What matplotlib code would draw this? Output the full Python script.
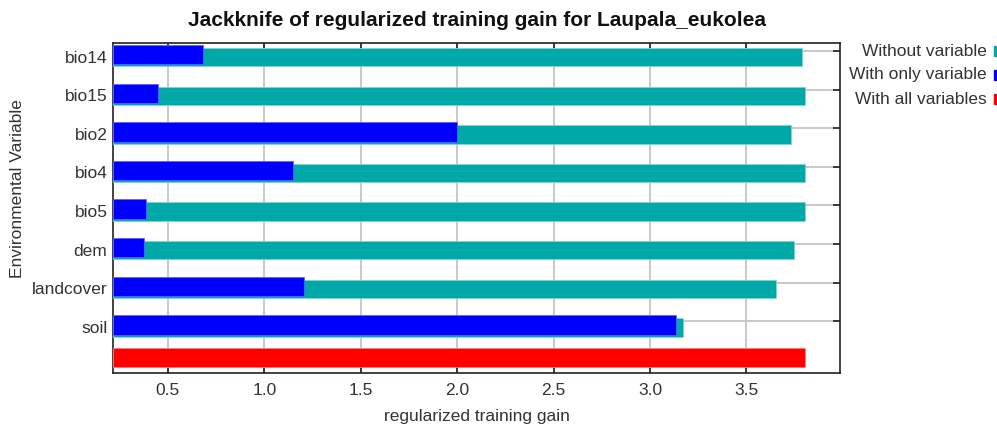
import matplotlib.pyplot as plt
from matplotlib.patches import Rectangle

# Jackknife values
variables = ['bio14', 'bio15', 'bio2', 'bio4', 'bio5', 'dem', 'landcover', 'soil']
without_variable = [3.788, 3.804, 3.731, 3.804, 3.804, 3.747, 3.654, 3.171]
with_only_variable = [0.680, 0.447, 2.000, 1.150, 0.386, 0.377, 1.207, 3.135]
with_all_variables = 3.804

legend_labels = ['Without variable', 'With only variable', 'With all variables']
xtick_values = [0.5, 1.0, 1.5, 2.0, 2.5, 3.0, 3.5]

TEAL = '#00a8a8'
BLUE = '#0000ff'
RED = '#ff0000'
GRID = '#c8c8c8'
TXT = '#333333'
FONT = ['Liberation Sans', 'DejaVu Sans']
FS = 12.5

plt.rcParams['font.family'] = FONT

W, H = 997, 432
fig = plt.figure(figsize=(W / 100, H / 100), dpi=100)
ax = fig.add_axes([113 / W, 1 - 373 / H, 727 / W, 330 / H])

xmin, xmax = 0.215, 3.985
rows = list(range(len(variables)))

# teal bar sits slightly lower than the blue one
ax.barh([r + 0.065 for r in rows], [v - xmin for v in without_variable], left=xmin,
        height=0.477, color=TEAL, edgecolor='#7fd3d3', linewidth=0.6, zorder=3)
ax.barh(rows, [v - xmin for v in with_only_variable], left=xmin,
        height=0.5, color=BLUE, edgecolor='#6060ff', linewidth=0.6, zorder=4)
ax.barh([len(variables) - 1 + 0.845], [with_all_variables - xmin], left=xmin,
        height=0.49, color=RED, edgecolor='#ff8080', linewidth=0.6, zorder=4)

ax.set_xlim(xmin, xmax)
ax.set_ylim(8.246, -0.303)

ax.set_xticks(xtick_values)
ax.set_xticklabels([f'{v:.1f}' for v in xtick_values])
ax.set_yticks([r + 0.05 for r in rows])
ax.set_yticklabels(variables)
ax.set_yticks([r - 0.096 for r in rows], minor=True)

ax.tick_params(axis='x', which='major', direction='in', length=4, width=1.2,
               top=True, bottom=True, pad=7, labelsize=FS, labelcolor=TXT, color='#222222')
ax.tick_params(axis='y', which='major', length=0, pad=4, labelsize=FS, labelcolor=TXT)
ax.tick_params(axis='y', which='minor', direction='in', length=5, width=1.2,
               left=False, right=True, color='#222222')

ax.grid(True, axis='x', which='major', color=GRID, linewidth=1.4, zorder=0)
ax.grid(True, axis='y', which='minor', color=GRID, linewidth=1.4, zorder=0)
ax.set_axisbelow(True)

for sp in ax.spines.values():
    sp.set_color('#222222')
    sp.set_linewidth(1.2)

fig.text(476.5 / W, 1 - 21 / H, 'Jackknife of regularized training gain for Laupala_eukolea',
         ha='center', va='center', fontsize=15, fontweight='bold', color='#111111')
fig.text(476.5 / W, 1 - 417 / H, 'regularized training gain',
         ha='center', va='center', fontsize=FS, color=TXT)
fig.text(18 / W, 1 - 189 / H, 'Environmental Variable', rotation=90,
         ha='center', va='center', fontsize=FS, color=TXT)

# legend on the right, markers cut by the figure edge
for i, (lab, col) in enumerate(zip(legend_labels, [TEAL, BLUE, RED])):
    yc = 51 + 24 * i
    fig.text(987 / W, 1 - yc / H, lab, ha='right', va='center', fontsize=FS, color=TXT)
    fig.patches.append(Rectangle((994 / W, 1 - (yc + 5) / H), 10 / W, 10 / H,
                                 transform=fig.transFigure, color=col, figure=fig))

fig.savefig('out.png', dpi=100)
